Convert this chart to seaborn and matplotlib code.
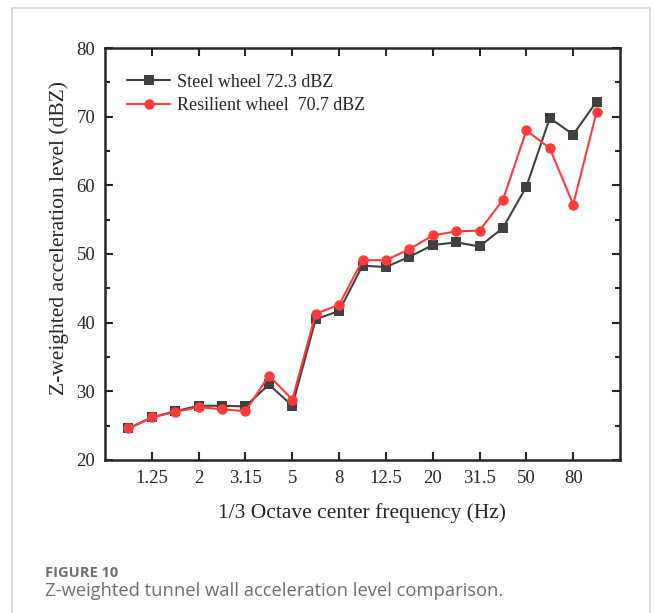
import numpy as np
import pandas as pd
import seaborn as sns
import matplotlib.pyplot as plt
from matplotlib.patches import Rectangle
from matplotlib.ticker import MultipleLocator

# 1/3 octave centre frequencies (Hz)
freqs = ['1', '1.25', '1.6', '2', '2.5', '3.15', '4', '5', '6.3', '8', '10',
         '12.5', '16', '20', '25', '31.5', '40', '50', '63', '80', '100']
tick_labels = ['1.25', '2', '3.15', '5', '8', '12.5', '20', '31.5', '50', '80']

steel = [24.6, 26.2, 27.1, 27.9, 27.9, 27.8, 31.0, 27.9, 40.5, 41.7, 48.3,
         48.1, 49.6, 51.3, 51.7, 51.1, 53.8, 59.8, 69.8, 67.4, 72.2]
resilient = [24.6, 26.2, 27.0, 27.7, 27.4, 27.1, 32.3, 28.8, 41.3, 42.6, 49.1,
             49.1, 50.7, 52.7, 53.3, 53.4, 57.9, 68.0, 65.4, 57.2, 70.7]

label_steel = 'Steel wheel 72.3 dBZ'
label_res = 'Resilient wheel  70.7 dBZ'

idx = np.arange(len(freqs))
df = pd.DataFrame({
    'pos': np.concatenate([idx, idx]),
    'level': steel + resilient,
    'series': [label_steel] * len(freqs) + [label_res] * len(freqs),
})

sns.set_style('ticks')
serif = ['Liberation Serif', 'DejaVu Serif']
plt.rcParams['font.family'] = serif
plt.rcParams['xtick.direction'] = 'in'
plt.rcParams['ytick.direction'] = 'in'

fig = plt.figure(figsize=(6.54, 6.13), dpi=100)
ax = fig.add_axes([105 / 654, 1 - 460 / 613, 515 / 654, 412 / 613])

sns.lineplot(data=df, x='pos', y='level', hue='series', style='series',
             markers={label_steel: 's', label_res: 'o'}, dashes=False,
             palette={label_steel: '#404040', label_res: '#ff3b3b'},
             markersize=7.5, markeredgewidth=0, linewidth=1.5, ax=ax)

ax.set_xlim(-1, len(freqs))
ax.set_ylim(20, 80)
ax.set_xticks([freqs.index(t) for t in tick_labels])
ax.set_xticklabels(tick_labels)
ax.yaxis.set_major_locator(MultipleLocator(10))
ax.yaxis.set_minor_locator(MultipleLocator(5))
ax.tick_params(axis='both', which='major', length=6, width=1.5,
               labelsize=13.5, top=True, right=True, pad=7)
ax.tick_params(axis='y', which='minor', length=3.6, width=1.5, right=True)
for lab in ax.get_xticklabels() + ax.get_yticklabels():
    lab.set_family(serif)
for s in ax.spines.values():
    s.set_linewidth(1.8)

ax.set_xlabel('1/3 Octave center frequency (Hz)', fontsize=15.5, labelpad=12)
ax.set_ylabel('Z-weighted acceleration level (dBZ)', fontsize=15.5)
ax.yaxis.set_label_coords(-0.07, 0.54)

leg = ax.legend(loc='upper left', frameon=False, fontsize=13,
                handlelength=2.4, handletextpad=0.35, labelspacing=0.35,
                borderaxespad=0.0, bbox_to_anchor=(0.029, 0.955))

# panel frame and caption
fig.patches.append(Rectangle((12 / 654, -0.1), 638 / 654, 1.1 - 8 / 613,
                             transform=fig.transFigure, fill=False,
                             edgecolor='#d6d6d6', linewidth=1.2))
fig.text(45 / 654, 1 - 573 / 613, 'FIGURE 10', fontsize=10.5, fontweight='bold',
         color='#6e6e6e', family=['Open Sans', 'DejaVu Sans'], va='center')
fig.text(45 / 654, 1 - 591 / 613,
         'Z-weighted tunnel wall acceleration level comparison.',
         fontsize=13.2, color='#6e6e6e', family=['Open Sans', 'DejaVu Sans'],
         va='center')

fig.savefig('out.png', dpi=100)
